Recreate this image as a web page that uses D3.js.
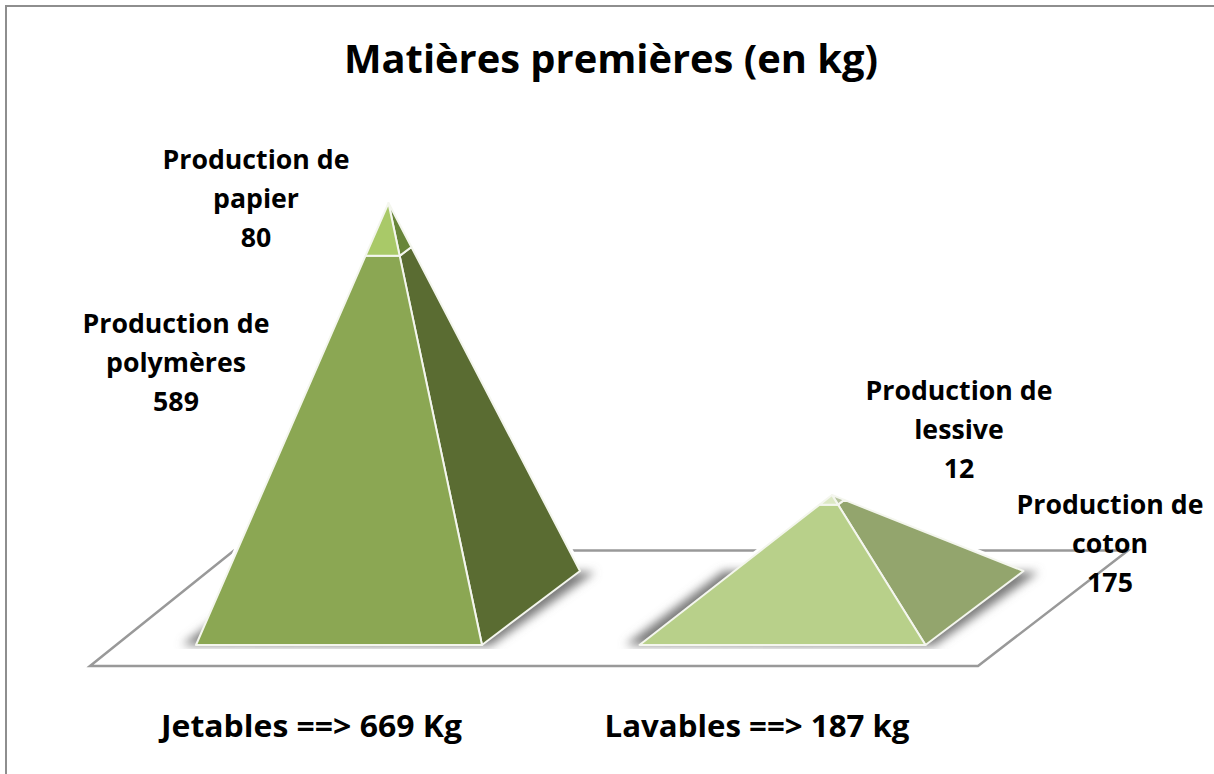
<!DOCTYPE html>
<html>
<head>
<meta charset="utf-8">
<script src="https://cdn.jsdelivr.net/npm/d3@7"></script>
<style>
  html, body { margin: 0; padding: 0; background: #fff; }
  svg { display: block; }
  text { font-family: "Open Sans", Lato, sans-serif; font-weight: 700; fill: #000; }
</style>
</head>
<body>
<svg id="chart" width="1214" height="774"></svg>
<script>
const CATEGORIES = ["Jetables ==> 669 Kg", "Lavables ==> 187 kg"];
const BOTTOM_NAMES = ["Production de polymères", "Production de coton"];
const TOP_NAMES = ["Production de papier", "Production de lessive"];
const BOTTOM_VALUES = [589, 175];
const TOP_VALUES = [80, 12];

const width = 1214;
const height = 774;
const svg = d3.select("#chart");

const floorY = 645;
const baseWidth = 286;
const depth = { x: 98, y: -74 };
const apexShift = 192.5;

// pyramid totals are drawn in perspective, so the height scale is not straight
const totals = BOTTOM_VALUES.map((d, i) => d + TOP_VALUES[i]);
const yScale = d3.scaleLinear().domain([0, 187, 669]).range([floorY, 495, 203]);
const xScale = d3.scalePoint().domain(CATEGORIES).range([196, 639.5]);

const faceColors = [
  { front: "#8BA753", side: "#5A6C32", topFront: "#A9C968", topSide: "#68853A" },
  { front: "#B8D08A", side: "#93A56D", topFront: "#DCE8C4", topSide: "#B5C29D" }
];

const defs = svg.append("defs");
defs.append("filter")
  .attr("id", "soft")
  .attr("x", "-20%").attr("y", "-30%")
  .attr("width", "140%").attr("height", "160%")
  .append("feGaussianBlur")
  .attr("stdDeviation", 5);
defs.append("clipPath")
  .attr("id", "aboveFront")
  .append("rect")
  .attr("width", width).attr("height", floorY + 4);

// frame
svg.append("rect")
  .attr("x", 6).attr("y", 6)
  .attr("width", width + 20).attr("height", height + 20)
  .attr("fill", "#fff")
  .attr("stroke", "#8E8E8E")
  .attr("stroke-width", 2);

// floor
const floorPts = [[90, 666], [978, 666], [1128, 550.5], [234, 550.5]];
svg.append("polygon")
  .attr("points", floorPts.join(" "))
  .attr("fill", "#fff")
  .attr("stroke", "#999")
  .attr("stroke-width", 2.5);

const lerp = (a, b, t) => [a[0] + (b[0] - a[0]) * t, a[1] + (b[1] - a[1]) * t];

const pyramids = CATEGORIES.map((c, i) => {
  const x0 = xScale(c);
  const fl = [x0, floorY];
  const fr = [x0 + baseWidth, floorY];
  const br = [fr[0] + depth.x, floorY + depth.y];
  const bl = [fl[0] + depth.x, floorY + depth.y];
  const apex = [x0 + apexShift, yScale(totals[i])];
  return { fl, fr, br, bl, apex, t: BOTTOM_VALUES[i] / totals[i], colors: faceColors[i] };
});

// white halo round each pyramid, it hides the floor line
svg.selectAll("polygon.halo")
  .data(pyramids)
  .enter()
  .append("polygon")
  .classed("halo", true)
  .attr("points", (d) => [d.fl, d.apex, d.br, d.fr].join(" "))
  .attr("fill", "#fff")
  .attr("stroke", "#fff")
  .attr("stroke-width", 7);

// shadows on the floor
svg.append("g")
  .attr("clip-path", "url(#aboveFront)")
  .selectAll("polygon.shadow")
  .data(pyramids)
  .enter()
  .append("polygon")
  .classed("shadow", true)
  .attr("points", (d) =>
    [[d.fl[0] - 14, d.fl[1]], [d.fr[0] + 8, d.fr[1] + 1], [d.br[0] + 15, d.br[1] + 1], [d.bl[0] - 14, d.bl[1]]].join(" ")
  )
  .attr("fill", "#7A7A7A")
  .attr("filter", "url(#soft)");

const faces = svg.selectAll("g.pyramid")
  .data(pyramids)
  .enter()
  .append("g")
  .classed("pyramid", true)
  .attr("stroke", "#F4F6EE")
  .attr("stroke-width", 2)
  .attr("stroke-linejoin", "round");

faces.append("polygon")
  .attr("fill", (d) => d.colors.side)
  .attr("points", (d) => [d.fr, d.br, lerp(d.br, d.apex, d.t), lerp(d.fr, d.apex, d.t)].join(" "));
faces.append("polygon")
  .attr("fill", (d) => d.colors.topSide)
  .attr("points", (d) => [lerp(d.fr, d.apex, d.t), lerp(d.br, d.apex, d.t), d.apex].join(" "));
faces.append("polygon")
  .attr("fill", (d) => d.colors.front)
  .attr("points", (d) => [d.fl, d.fr, lerp(d.fr, d.apex, d.t), lerp(d.fl, d.apex, d.t)].join(" "));
faces.append("polygon")
  .attr("fill", (d) => d.colors.topFront)
  .attr("points", (d) => [lerp(d.fl, d.apex, d.t), lerp(d.fr, d.apex, d.t), d.apex].join(" "));

// title
svg.append("text")
  .attr("x", 611).attr("y", 73)
  .attr("text-anchor", "middle")
  .attr("textLength", 534)
  .attr("lengthAdjust", "spacingAndGlyphs")
  .style("font-size", "40px")
  .text("Matières premières (en kg)");

// category labels
const catCenters = [311.5, 757];
const catWidths = [301, 305];
svg.selectAll("text.cat")
  .data(CATEGORIES)
  .enter()
  .append("text")
  .classed("cat", true)
  .attr("x", (d, i) => catCenters[i])
  .attr("y", 737)
  .attr("text-anchor", "middle")
  .attr("textLength", (d, i) => catWidths[i])
  .attr("lengthAdjust", "spacingAndGlyphs")
  .style("font-size", "31px")
  .text((d) => d);

// data labels
function splitName(name) {
  const cut = name.lastIndexOf(" ");
  return [name.slice(0, cut), name.slice(cut + 1)];
}

const labels = [
  { name: TOP_NAMES[0], value: TOP_VALUES[0], x: 256, y: 169 },
  { name: BOTTOM_NAMES[0], value: BOTTOM_VALUES[0], x: 176, y: 333 },
  { name: TOP_NAMES[1], value: TOP_VALUES[1], x: 959, y: 400 },
  { name: BOTTOM_NAMES[1], value: BOTTOM_VALUES[1], x: 1110, y: 514 }
];

labels.forEach((l) => {
  const t = svg.append("text")
    .attr("text-anchor", "middle")
    .style("font-size", "26.7px");
  splitName(l.name).concat(String(l.value)).forEach((line, i) => {
    t.append("tspan")
      .attr("x", l.x)
      .attr("y", l.y + i * 39)
      .text(line);
  });
});
</script>
</body>
</html>
